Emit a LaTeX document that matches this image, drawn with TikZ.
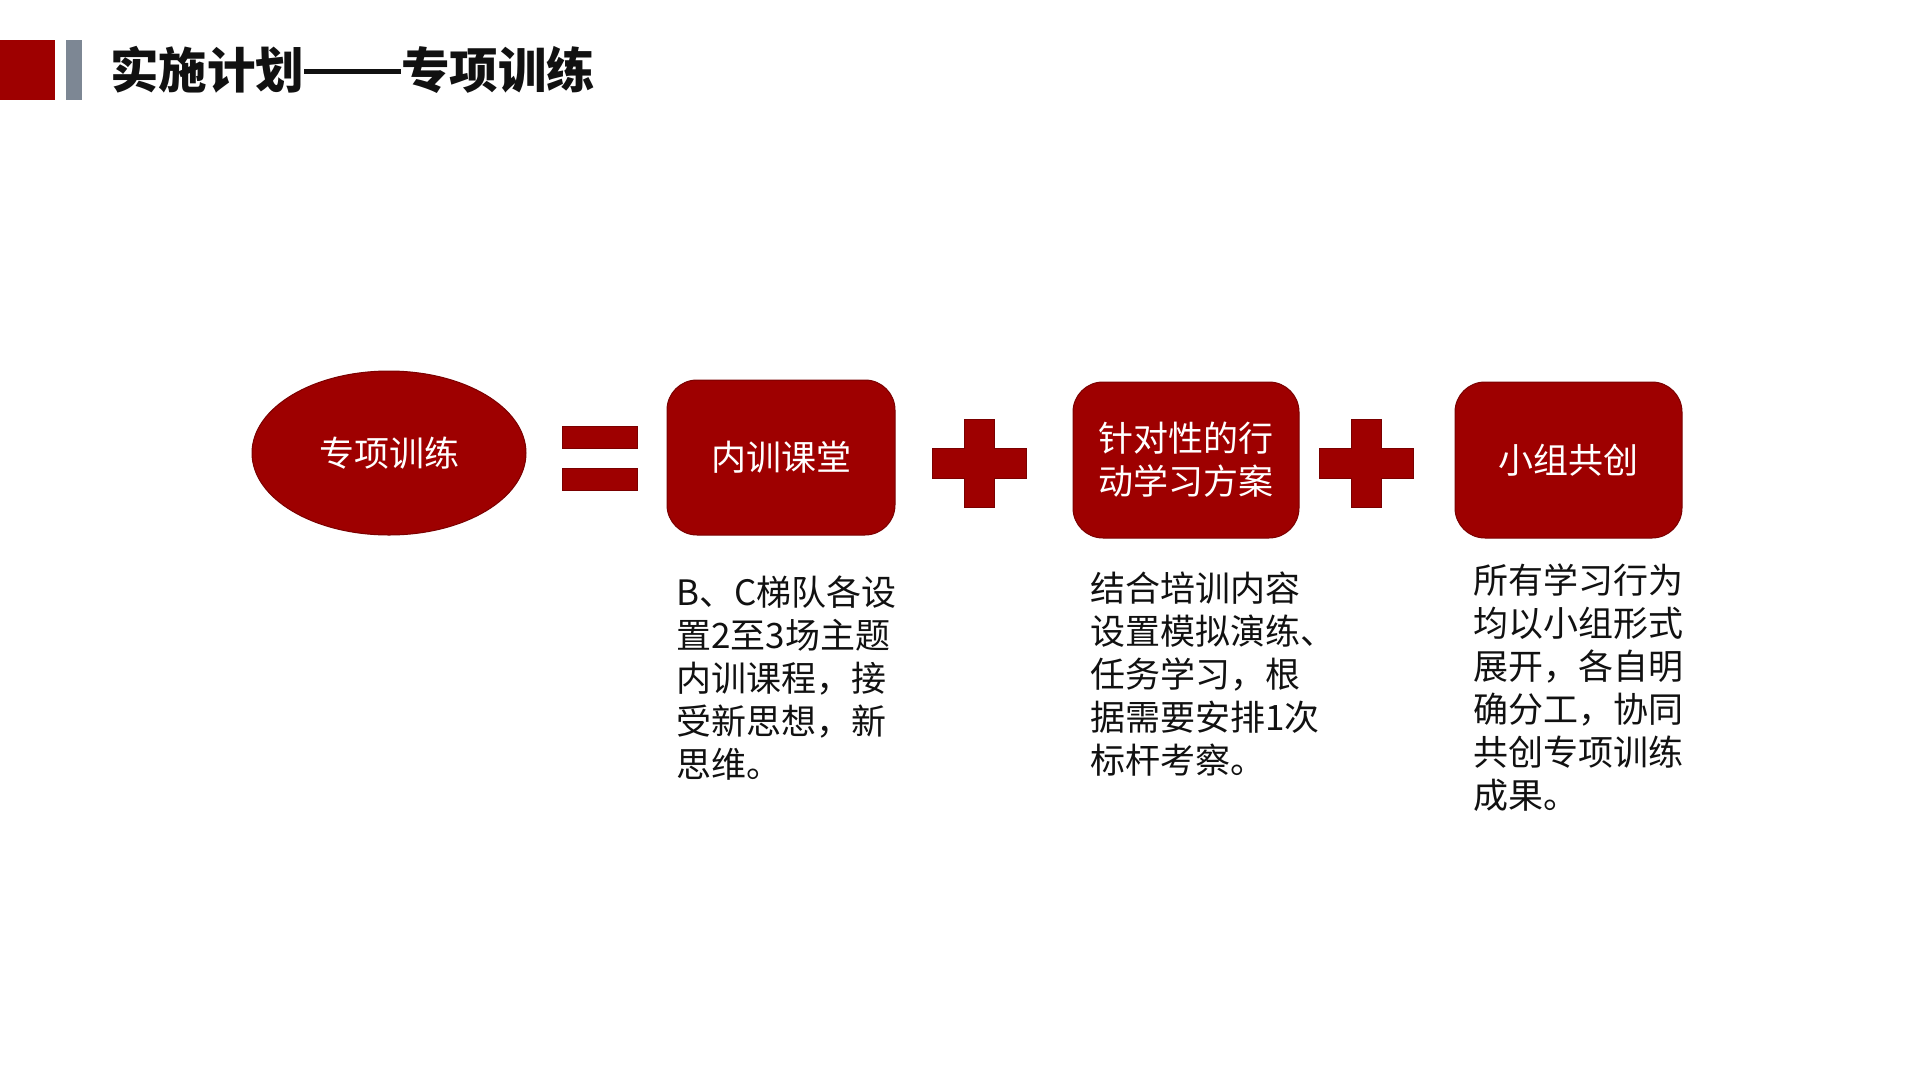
\documentclass[tikz,border=0pt]{standalone}
\usepackage{fontspec}
\setmainfont{Noto Sans CJK SC}
\usetikzlibrary{shapes.geometric}
\definecolor{mainred}{HTML}{9E0000}
\definecolor{edgered}{HTML}{7A0000}
\definecolor{hdgray}{HTML}{7D8794}
\definecolor{txtblack}{HTML}{111111}
\tikzset{
  redshape/.style={fill=mainred, draw=edgered, line width=1pt},
  redbox/.style={redshape, rounded corners=30pt, inner sep=0pt, text=white,
    font=\fontsize{35}{43}\selectfont, align=center},
  desc/.style={anchor=north west, inner sep=0pt, align=left, text=txtblack,
    font=\fontsize{35}{43}\selectfont},
}
\begin{document}
\begin{tikzpicture}[x=1pt,y=-1pt]
\useasboundingbox (0,0) rectangle (1920,1080);
% header
\fill[mainred] (0,40) rectangle (55,100);
\fill[hdgray] (66,40) rectangle (82,100);
\node[anchor=west, inner sep=0pt, text=txtblack, font=\fontsize{48.5}{56}\selectfont\bfseries] (title) at (110,70) {实施计划\rule[15pt]{97pt}{4.5pt}专项训练};
% ellipse
\node[redshape, ellipse, minimum width=274pt, minimum height=164pt, inner sep=0pt,
  text=white, font=\fontsize{35}{43}\selectfont] (e) at (389,453) {专项训练};
% equals sign
\fill[redshape] (562,426) rectangle (637,448);
\fill[redshape] (562,468) rectangle (637,490);
% boxes
\node[redbox, minimum width=228pt, minimum height=155pt] (b1) at (781,457.5) {内训课堂};
\node[redbox, minimum width=226pt, minimum height=156pt] (b2) at (1186,460) {针对性的行\\动学习方案};
\node[redbox, minimum width=227pt, minimum height=156pt] (b3) at (1568.5,460) {小组共创};
% plus signs
\path[redshape] (964,419) -- (994,419) -- (994,448) -- (1026,448) -- (1026,478) -- (994,478)
  -- (994,507) -- (964,507) -- (964,478) -- (932,478) -- (932,448) -- (964,448) -- cycle;
\path[redshape] (1351,419) -- (1381,419) -- (1381,448) -- (1413,448) -- (1413,478) -- (1381,478)
  -- (1381,507) -- (1351,507) -- (1351,478) -- (1319,478) -- (1319,448) -- (1351,448) -- cycle;
% descriptions
\node[desc] (d1) at (676,576) {B、C梯队各设\\置2至3场主题\\内训课程，接\\受新思想，新\\思维。};
\node[desc] (d2) at (1090,572) {结合培训内容\\设置模拟演练、\\任务学习，根\\据需要安排1次\\标杆考察。};
\node[desc] (d3) at (1473,564) {所有学习行为\\均以小组形式\\展开，各自明\\确分工，协同\\共创专项训练\\成果。};
\end{tikzpicture}
\end{document}
